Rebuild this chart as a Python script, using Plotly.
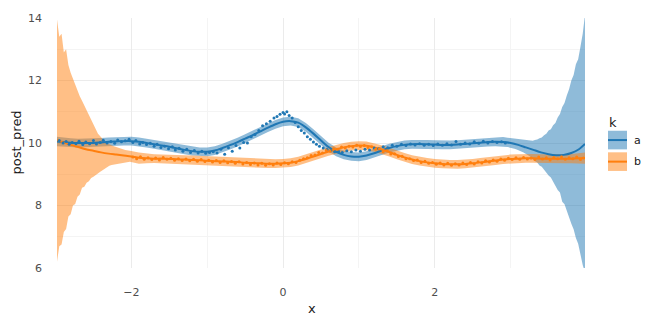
import plotly.graph_objects as go

# ---- posterior mean curves on a shared x grid ----
line_x = [-2.98, -2.9, -2.8, -2.7, -2.6, -2.5, -2.4, -2.3, -2.2, -2.1, -2.0,
          -1.9, -1.8, -1.7, -1.6, -1.5, -1.4, -1.3, -1.2, -1.1, -1.0,
          -0.9, -0.8, -0.7, -0.6, -0.5, -0.4, -0.3, -0.2, -0.1, 0.0,
          0.1, 0.2, 0.3, 0.4, 0.5, 0.6, 0.7, 0.8, 0.9, 1.0,
          1.1, 1.2, 1.3, 1.4, 1.5, 1.6, 1.7, 1.8, 1.9, 2.0,
          2.1, 2.2, 2.3, 2.4, 2.5, 2.6, 2.7, 2.8, 2.9, 3.0,
          3.1, 3.2, 3.3, 3.4, 3.5, 3.6, 3.7, 3.8, 3.9, 3.98]

a_mean = [10.05, 10.03, 10.01, 10.0, 10.0, 10.0, 10.02, 10.04, 10.05, 10.06, 10.06,
          10.04, 10.0, 9.96, 9.92, 9.88, 9.83, 9.78, 9.74, 9.72, 9.72,
          9.76, 9.84, 9.93, 10.03, 10.14, 10.25, 10.37, 10.49, 10.6, 10.68,
          10.7, 10.65, 10.5, 10.3, 10.08, 9.87, 9.72, 9.62, 9.57, 9.56,
          9.6, 9.67, 9.76, 9.84, 9.9, 9.94, 9.96, 9.97, 9.96, 9.95,
          9.94, 9.94, 9.95, 9.97, 9.99, 10.01, 10.03, 10.04, 10.03, 10.0,
          9.94, 9.86, 9.78, 9.7, 9.64, 9.61, 9.62, 9.68, 9.8, 9.97]

b_mean = [10.1, 10.02, 9.94, 9.87, 9.8, 9.75, 9.7, 9.66, 9.63, 9.6, 9.57,
          9.53, 9.51, 9.5, 9.5, 9.49, 9.48, 9.47, 9.46, 9.45, 9.43,
          9.42, 9.41, 9.4, 9.39, 9.37, 9.36, 9.35, 9.34, 9.34, 9.35,
          9.37, 9.42, 9.49, 9.57, 9.65, 9.73, 9.8, 9.86, 9.9, 9.92,
          9.91, 9.86, 9.79, 9.71, 9.62, 9.54, 9.47, 9.42, 9.38, 9.35,
          9.33, 9.32, 9.32, 9.33, 9.35, 9.38, 9.41, 9.44, 9.47, 9.49,
          9.5, 9.51, 9.51, 9.5, 9.5, 9.5, 9.5, 9.5, 9.51, 9.52]

# ---- predictive interval, series a ----
a_band_x = [-2.98, -2.9, -2.8, -2.7, -2.6, -2.5, -2.4, -2.3, -2.2, -2.1, -2.0,
            -1.9, -1.8, -1.7, -1.6, -1.5, -1.4, -1.3, -1.2, -1.1, -1.0,
            -0.9, -0.8, -0.7, -0.6, -0.5, -0.4, -0.3, -0.2, -0.1, 0.0,
            0.1, 0.2, 0.3, 0.4, 0.5, 0.6, 0.7, 0.8, 0.9, 1.0,
            1.1, 1.2, 1.3, 1.4, 1.5, 1.6, 1.7, 1.8, 1.9, 2.0,
            2.1, 2.2, 2.3, 2.4, 2.5, 2.6, 2.7, 2.8, 2.9,
            2.96, 2.99, 3.02, 3.05, 3.08, 3.11, 3.14, 3.17, 3.2, 3.23,
            3.26, 3.29, 3.32, 3.35, 3.38, 3.41, 3.44, 3.47, 3.5, 3.53,
            3.56, 3.59, 3.62, 3.65, 3.68, 3.71, 3.74, 3.77, 3.8, 3.83,
            3.86, 3.89, 3.92, 3.95, 3.98]
a_band_lo = [9.9, 9.89, 9.87, 9.86, 9.86, 9.86, 9.88, 9.9, 9.91, 9.92, 9.92,
             9.9, 9.86, 9.82, 9.78, 9.74, 9.69, 9.64, 9.6, 9.58, 9.58,
             9.62, 9.7, 9.79, 9.89, 10.0, 10.11, 10.23, 10.35, 10.46, 10.54,
             10.56, 10.51, 10.36, 10.16, 9.94, 9.73, 9.58, 9.48, 9.43, 9.42,
             9.46, 9.53, 9.62, 9.7, 9.76, 9.8, 9.82, 9.83, 9.82, 9.81,
             9.8, 9.8, 9.81, 9.83, 9.85, 9.87, 9.89, 9.9, 9.88,
             9.87, 9.85, 9.84, 9.82, 9.79, 9.77, 9.73, 9.7, 9.66, 9.61,
             9.56, 9.5, 9.42, 9.38, 9.28, 9.24, 9.12, 9.06, 8.96, 8.9,
             8.76, 8.64, 8.5, 8.42, 8.12, 8.04, 7.82, 7.62, 7.42, 7.24,
             6.96, 6.78, 6.42, 6.1, 5.85]
a_band_hi = [10.2, 10.17, 10.15, 10.14, 10.14, 10.14, 10.16, 10.18, 10.19, 10.2, 10.2,
             10.18, 10.14, 10.1, 10.06, 10.02, 9.97, 9.92, 9.88, 9.86, 9.86,
             9.9, 9.98, 10.07, 10.17, 10.28, 10.39, 10.51, 10.63, 10.74, 10.82,
             10.84, 10.79, 10.64, 10.44, 10.22, 10.01, 9.86, 9.76, 9.71, 9.7,
             9.74, 9.81, 9.9, 9.98, 10.04, 10.08, 10.1, 10.11, 10.1, 10.09,
             10.08, 10.08, 10.09, 10.11, 10.13, 10.15, 10.17, 10.18, 10.19,
             10.17, 10.16, 10.15, 10.14, 10.12, 10.11, 10.1, 10.09, 10.08, 10.07,
             10.07, 10.07, 10.1, 10.11, 10.15, 10.18, 10.25, 10.3, 10.4, 10.44,
             10.57, 10.64, 10.82, 10.93, 11.15, 11.28, 11.52, 11.72, 12.0, 12.18,
             12.52, 12.68, 13.08, 13.5, 14.1]

# ---- predictive interval, series b ----
b_band_x = [-2.98, -2.95, -2.92, -2.89, -2.86, -2.83, -2.8, -2.77, -2.74, -2.71,
            -2.68, -2.65, -2.62, -2.59, -2.56, -2.53, -2.5, -2.47, -2.44, -2.41,
            -2.38, -2.35, -2.32, -2.29, -2.26, -2.23, -2.2, -2.17, -2.14, -2.11,
            -2.08, -2.05, -2.02,
            -1.9, -1.8, -1.7, -1.6, -1.5, -1.4, -1.3, -1.2, -1.1, -1.0,
            -0.9, -0.8, -0.7, -0.6, -0.5, -0.4, -0.3, -0.2, -0.1, 0.0,
            0.1, 0.2, 0.3, 0.4, 0.5, 0.6, 0.7, 0.8, 0.9, 1.0,
            1.1, 1.2, 1.3, 1.4, 1.5, 1.6, 1.7, 1.8, 1.9, 2.0,
            2.1, 2.2, 2.3, 2.4, 2.5, 2.6, 2.7, 2.8, 2.9, 3.0,
            3.1, 3.2, 3.3, 3.4, 3.5, 3.6, 3.7, 3.8, 3.9, 3.98]
b_band_lo = [6.2, 6.7, 6.75, 7.15, 7.25, 7.65, 7.72, 8.0, 8.05, 8.28,
             8.35, 8.57, 8.6, 8.73, 8.78, 8.88, 8.92, 8.99, 9.02, 9.08,
             9.13, 9.18, 9.23, 9.27, 9.3, 9.32, 9.34, 9.35, 9.36, 9.37,
             9.38, 9.39, 9.4,
             9.34, 9.35, 9.36, 9.36, 9.35, 9.34, 9.33, 9.32, 9.31, 9.29,
             9.28, 9.27, 9.26, 9.25, 9.23, 9.22, 9.21, 9.2, 9.2, 9.21,
             9.23, 9.28, 9.35, 9.43, 9.51, 9.59, 9.66, 9.72, 9.76, 9.78,
             9.77, 9.72, 9.65, 9.57, 9.48, 9.4, 9.33, 9.28, 9.24, 9.21,
             9.19, 9.18, 9.18, 9.19, 9.21, 9.24, 9.27, 9.3, 9.33, 9.35,
             9.36, 9.37, 9.37, 9.36, 9.36, 9.36, 9.35, 9.35, 9.35, 9.34]
b_band_hi = [13.95, 13.4, 13.5, 12.9, 13.0, 12.5, 12.25, 12.05, 11.85, 11.7,
             11.5, 11.35, 11.2, 11.0, 10.9, 10.72, 10.55, 10.42, 10.3, 10.22,
             10.12, 10.05, 9.99, 9.95, 9.93, 9.9, 9.87, 9.85, 9.82, 9.8,
             9.78, 9.76, 9.75,
             9.7, 9.66, 9.64, 9.63, 9.63, 9.62, 9.61, 9.6, 9.59, 9.57,
             9.56, 9.55, 9.54, 9.53, 9.51, 9.5, 9.49, 9.48, 9.48, 9.49,
             9.51, 9.56, 9.63, 9.71, 9.79, 9.87, 9.94, 10.0, 10.04, 10.06,
             10.05, 10.0, 9.93, 9.85, 9.76, 9.68, 9.61, 9.56, 9.52, 9.49,
             9.47, 9.46, 9.46, 9.47, 9.49, 9.52, 9.55, 9.58, 9.61, 9.63,
             9.64, 9.65, 9.65, 9.64, 9.64, 9.64, 9.65, 9.65, 9.67, 9.7]

# ---- observed points ----
a_obs_x = [-2.95, -2.9, -2.86, -2.82, -2.78, -2.73, -2.69, -2.64, -2.6, -2.55,
           -2.5, -2.46, -2.41, -2.37, -2.32, -2.27, -2.22, -2.18, -2.13, -2.08,
           -2.03, -1.98, -1.94, -1.89, -1.85, -1.8, -1.75, -1.7, -1.66, -1.61,
           -1.56, -1.51, -1.46, -1.42, -1.37, -1.32, -1.27, -1.22, -1.17, -1.12,
           -1.07, -1.02, -0.97, -0.92, -0.87, -0.82, -0.77, -0.72, -0.67, -0.62,
           -0.57, -0.52, -0.47, -0.42, -0.37, -0.32, -0.27, -0.22, -0.17, -0.12,
           -0.08, -0.04, 0.0, 0.02, 0.05, 0.08, 0.12, 0.16, 0.2, 0.24,
           0.28, 0.32, 0.36, 0.4, 0.44, 0.48, 0.53, 0.58, 0.63, 0.68,
           0.73, 0.78, 0.84, 0.9, 0.96, 1.02, 1.08, 1.14, 1.2, 1.26,
           1.32, 1.38, 1.44, 1.5, 1.56, 1.62, 1.68, 1.74, 1.8, 1.86,
           1.92, 1.98, 2.04, 2.1, 2.16, 2.22, 2.28, 2.34, 2.4, 2.46,
           2.52, 2.58, 2.64, 2.7, 2.76, 2.82, 2.88, 2.93]
a_obs_y = [10.08, 10.0, 10.05, 9.96, 10.02, 9.98, 10.06, 9.95, 10.03, 9.98,
           10.08, 9.97, 10.02, 10.09, 10.0, 10.05, 9.99, 10.1, 10.04, 10.07,
           10.12, 10.02, 10.08, 9.97, 10.02, 9.95, 9.99, 9.9, 9.96, 9.86,
           9.9, 9.82, 9.88, 9.78, 9.83, 9.74, 9.8, 9.7, 9.76, 9.68,
           9.74, 9.67, 9.7, 9.72, 9.68, 9.8, 9.64, 9.85, 9.74, 9.92,
           9.84, 10.02, 10.0, 10.2, 10.27, 10.4, 10.55, 10.62, 10.7, 10.8,
           10.85, 10.92, 10.98, 10.93, 11.0, 10.88, 10.8, 10.66, 10.52, 10.4,
           10.32, 10.2, 10.12, 10.03, 9.96, 9.9, 9.84, 9.79, 9.75, 9.72,
           9.74, 9.7, 9.75, 9.72, 9.78, 9.74, 9.8, 9.78, 9.84, 9.82,
           9.88, 9.85, 9.93, 9.9, 9.96, 9.92, 9.97, 9.94, 9.98, 9.93,
           9.96, 9.92, 9.97, 9.93, 9.98, 9.94, 10.05, 9.96, 10.0, 9.97,
           10.04, 9.99, 10.06, 10.0, 10.05, 10.02, 10.04, 10.0]

b_obs_x = [-1.98, -1.93, -1.88, -1.83, -1.78, -1.73, -1.68, -1.63, -1.58, -1.53,
           -1.48, -1.43, -1.38, -1.33, -1.28, -1.23, -1.18, -1.13, -1.08, -1.03,
           -0.98, -0.93, -0.88, -0.83, -0.78, -0.73, -0.68, -0.63, -0.58, -0.53,
           -0.48, -0.43, -0.38, -0.33, -0.28, -0.23, -0.18, -0.13, -0.08, -0.03,
           0.02, 0.07, 0.12, 0.17, 0.22, 0.27, 0.32, 0.37, 0.42, 0.47,
           0.52, 0.57, 0.62, 0.67, 0.72, 0.77, 0.82, 0.87, 0.92, 0.97,
           1.02, 1.07, 1.12, 1.17, 1.22, 1.27, 1.32, 1.37, 1.42, 1.47,
           1.52, 1.57, 1.62, 1.67, 1.72, 1.77, 1.82, 1.87, 1.92, 1.97,
           2.02, 2.07, 2.12, 2.17, 2.22, 2.27, 2.32, 2.37, 2.42, 2.47,
           2.52, 2.57, 2.62, 2.67, 2.72, 2.77, 2.82, 2.87, 2.92, 2.97,
           3.02, 3.07, 3.12, 3.17, 3.22, 3.27, 3.32, 3.37, 3.42, 3.47,
           3.52, 3.57, 3.62, 3.67, 3.72, 3.77, 3.82, 3.87, 3.92, 3.96]
b_obs_y = [9.55, 9.5, 9.56, 9.48, 9.53, 9.47, 9.52, 9.46, 9.54, 9.48,
           9.51, 9.45, 9.5, 9.44, 9.49, 9.43, 9.48, 9.42, 9.47, 9.41,
           9.45, 9.39, 9.44, 9.38, 9.43, 9.37, 9.41, 9.35, 9.4, 9.33,
           9.38, 9.31, 9.36, 9.3, 9.35, 9.29, 9.34, 9.3, 9.36, 9.31,
           9.37, 9.34, 9.4, 9.38, 9.45, 9.5, 9.53, 9.6, 9.62, 9.7,
           9.68, 9.76, 9.74, 9.82, 9.8, 9.87, 9.84, 9.9, 9.87, 9.93,
           9.89, 9.92, 9.86, 9.88, 9.8, 9.82, 9.72, 9.75, 9.65, 9.66,
           9.57, 9.58, 9.5, 9.5, 9.44, 9.46, 9.38, 9.42, 9.35, 9.38,
           9.32, 9.36, 9.3, 9.35, 9.29, 9.34, 9.3, 9.36, 9.31, 9.38,
           9.33, 9.4, 9.36, 9.43, 9.39, 9.46, 9.42, 9.49, 9.45, 9.51,
           9.47, 9.53, 9.48, 9.54, 9.49, 9.52, 9.47, 9.55, 9.49, 9.53,
           9.46, 9.54, 9.5, 9.56, 9.48, 9.53, 9.5, 9.55, 9.47, 9.52]

series_names = ["a", "b"]
legend_title = "k"

BLUE = "#1f77b4"
ORANGE = "#ff7f0e"
BLUE_FILL = "rgba(31,119,180,0.5)"
ORANGE_FILL = "rgba(255,127,14,0.5)"


def ribbon(xs, lo, hi, fill):
    return go.Scatter(x=list(xs) + list(xs)[::-1], y=list(hi) + list(lo)[::-1],
                      fill="toself", fillcolor=fill, mode="lines",
                      line=dict(width=0), hoverinfo="skip", showlegend=False)


fig = go.Figure()
fig.add_trace(ribbon(a_band_x, a_band_lo, a_band_hi, BLUE_FILL))
fig.add_trace(ribbon(b_band_x, b_band_lo, b_band_hi, ORANGE_FILL))
fig.add_trace(go.Scatter(x=line_x, y=a_mean, mode="lines", showlegend=False,
                         line=dict(color=BLUE, width=2, shape="spline", smoothing=0.8)))
fig.add_trace(go.Scatter(x=line_x, y=b_mean, mode="lines", showlegend=False,
                         line=dict(color=ORANGE, width=2, shape="spline", smoothing=0.8)))
fig.add_trace(go.Scatter(x=a_obs_x, y=a_obs_y, mode="markers", showlegend=False,
                         marker=dict(color=BLUE, size=3, line=dict(width=0))))
fig.add_trace(go.Scatter(x=b_obs_x, y=b_obs_y, mode="markers", showlegend=False,
                         marker=dict(color=ORANGE, size=3, line=dict(width=0))))

# plot area in pixels: left 57, right 585, top 13, bottom 268
L, R, T, B, W, H = 57, 75, 13, 58, 660, 326
PW, PH = W - L - R, H - T - B


def px(xp):
    return (xp - L) / PW


def py(yp):
    return (H - B - yp) / PH


shapes = []
annotations = []
fills = [BLUE_FILL, ORANGE_FILL]
colors = [BLUE, ORANGE]
for i, name in enumerate(series_names):
    top = 128 + 22 * i
    shapes.append(dict(type="rect", xref="paper", yref="paper",
                       x0=px(608), x1=px(627), y0=py(top), y1=py(top + 19),
                       fillcolor=fills[i], line=dict(width=0)))
    shapes.append(dict(type="line", xref="paper", yref="paper",
                       x0=px(608), x1=px(627), y0=py(top + 9.5), y1=py(top + 9.5),
                       line=dict(color=colors[i], width=2)))
    annotations.append(dict(text=name, xref="paper", yref="paper",
                            x=px(632), y=py(top + 9.5), xanchor="left", yanchor="middle",
                            showarrow=False, font=dict(size=11, color="#1a1a1a")))
annotations.append(dict(text=legend_title, xref="paper", yref="paper",
                        x=px(607), y=py(120), xanchor="left", yanchor="middle",
                        showarrow=False, font=dict(size=13, color="#1a1a1a")))
annotations.append(dict(text="x", xref="paper", yref="paper",
                        x=px(312), y=py(309), xanchor="center", yanchor="middle",
                        showarrow=False, font=dict(size=13, color="#1a1a1a")))
annotations.append(dict(text="post_pred", xref="paper", yref="paper",
                        x=px(17), y=py(140), xanchor="center", yanchor="middle",
                        textangle=-90, showarrow=False,
                        font=dict(size=13, color="#1a1a1a")))

axis_common = dict(showline=False, zeroline=False, ticks="",
                   gridcolor="#ebebeb", gridwidth=1.1,
                   tickfont=dict(size=11, color="#4d4d4d"))

fig.update_layout(
    width=W, height=H,
    margin=dict(l=L, r=R, t=T, b=B, pad=0),
    paper_bgcolor="white", plot_bgcolor="white",
    font=dict(family="DejaVu Sans"),
    showlegend=False,
    xaxis=dict(range=[-2.98, 3.98], tickmode="array", tickvals=[-2, 0, 2],
               ticklabelstandoff=16,
               minor=dict(showgrid=True, tickmode="array", tickvals=[-1, 1, 3],
                          gridcolor="#f4f4f4", gridwidth=0.8),
               **axis_common),
    yaxis=dict(range=[6, 14], tickmode="array", tickvals=[6, 8, 10, 12, 14],
               ticklabelstandoff=14,
               minor=dict(showgrid=True, tickmode="array", tickvals=[7, 9, 11, 13],
                          gridcolor="#f4f4f4", gridwidth=0.8),
               **axis_common),
    shapes=shapes,
    annotations=annotations,
)

fig.write_html("out.html")
